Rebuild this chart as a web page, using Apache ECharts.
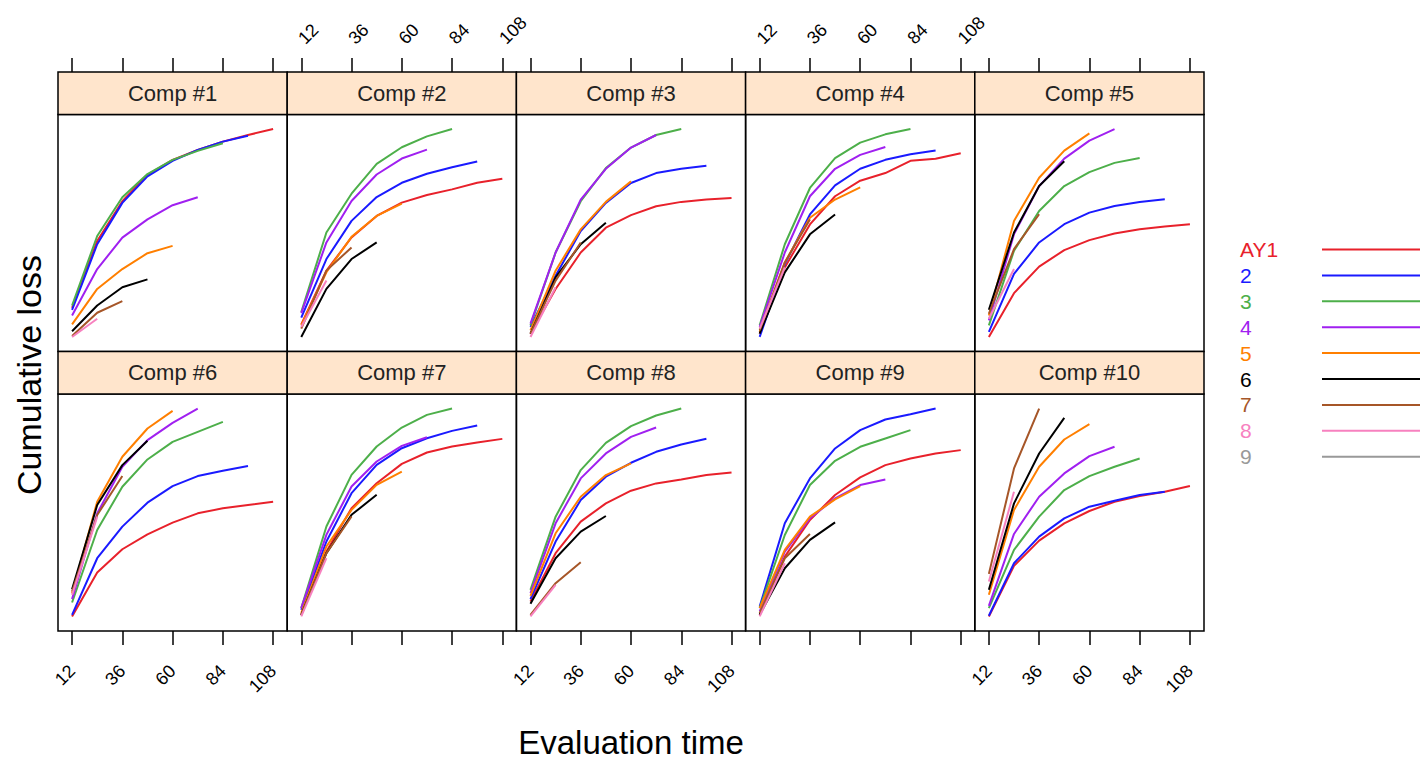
<!DOCTYPE html>
<html>
<head>
<meta charset="utf-8">
<script src="https://cdn.jsdelivr.net/npm/echarts@6/dist/echarts.min.js"></script>
<style>
  html, body { margin: 0; padding: 0; background: #ffffff; }
  #chart { width: 1420px; height: 761px; }
</style>
</head>
<body>
<div id="chart"></div>
<script>
// Development ages (months) and the labelled ticks
const evalTimes = [12, 24, 36, 48, 60, 72, 84, 96, 108];
const tickValues = [12, 36, 60, 84, 108];

// Accident years (legend labels) and their colours
const accidentYears = ['AY1', '2', '3', '4', '5', '6', '7', '8', '9'];
const yearColors = ['#e8212b', '#1a1aff', '#4daf4a', '#a020f0', '#ff7f00', '#000000', '#a65628', '#f781bf', '#999999'];

const panelTitles = ['Comp #1', 'Comp #2', 'Comp #3', 'Comp #4', 'Comp #5',
                     'Comp #6', 'Comp #7', 'Comp #8', 'Comp #9', 'Comp #10'];

// Cumulative loss per company: one row per accident year, one value per age
const comp1 = [
  [131, 333, 453, 533, 578, 608, 633, 653, 671],
  [125, 323, 448, 528, 575, 608, 633, 651],
  [138, 348, 465, 535, 578, 605, 628],
  [108, 248, 343, 398, 441, 465],
  [81, 188, 248, 296, 318],
  [60, 138, 193, 217],
  [46, 116, 151],
  [43, 98],
  [45]
];
const comp2 = [
  [81, 243, 343, 408, 448, 471, 488, 508, 520],
  [101, 278, 393, 465, 508, 535, 555, 572],
  [118, 358, 475, 565, 615, 648, 670],
  [115, 328, 453, 533, 581, 608],
  [78, 238, 345, 408, 445],
  [43, 188, 278, 328],
  [68, 243, 313],
  [73, 213],
  [75]
];
const comp3 = [
  [53, 188, 298, 373, 411, 438, 451, 458, 463],
  [73, 228, 363, 448, 508, 538, 551, 560],
  [78, 298, 453, 553, 615, 653, 671],
  [83, 298, 458, 551, 615, 653],
  [63, 243, 368, 451, 513],
  [53, 223, 323, 388],
  [53, 213, 328],
  [43, 193],
  [50]
];
const comp4 = [
  [53, 253, 383, 468, 515, 538, 575, 581, 598],
  [43, 263, 413, 501, 551, 578, 595, 606],
  [78, 323, 493, 583, 630, 655, 671],
  [73, 298, 468, 551, 593, 617],
  [58, 268, 403, 458, 495],
  [53, 238, 353, 413],
  [63, 268, 398],
  [68, 253],
  [60]
];
const comp5 = [
  [43, 175, 255, 305, 335, 355, 368, 376, 383],
  [58, 233, 328, 383, 418, 438, 450, 458],
  [78, 303, 423, 498, 540, 568, 583],
  [93, 353, 498, 581, 635, 670],
  [108, 393, 523, 605, 657],
  [125, 358, 498, 573],
  [113, 308, 413],
  [98, 248],
  [100]
];
const comp6 = [
  [43, 175, 245, 290, 325, 353, 368, 378, 388],
  [48, 218, 313, 385, 435, 465, 481, 495],
  [85, 303, 433, 515, 568, 598, 628],
  [95, 353, 493, 573, 625, 668],
  [113, 388, 523, 608, 661],
  [125, 378, 498, 571],
  [118, 348, 465],
  [108, 343],
  [110]
];
const comp7 = [
  [48, 238, 368, 443, 501, 535, 553, 565, 576],
  [63, 268, 413, 498, 548, 578, 600, 616],
  [68, 313, 468, 553, 610, 648, 667],
  [68, 288, 433, 508, 555, 581],
  [53, 253, 363, 438, 478],
  [48, 233, 348, 408],
  [48, 233, 343],
  [43, 218],
  [50]
];
const comp8 = [
  [88, 233, 328, 383, 421, 443, 455, 468, 476],
  [95, 268, 393, 463, 505, 538, 560, 577],
  [123, 343, 483, 565, 615, 647, 668],
  [113, 323, 458, 533, 583, 611],
  [105, 293, 403, 468, 503],
  [81, 218, 298, 345],
  [48, 143, 206],
  [43, 138],
  [60]
];
const comp9 = [
  [48, 223, 333, 408, 461, 498, 518, 533, 543],
  [73, 323, 458, 548, 603, 635, 651, 668],
  [68, 288, 438, 511, 553, 578, 603],
  [58, 238, 338, 398, 438, 455],
  [68, 243, 343, 395, 435],
  [48, 188, 273, 326],
  [53, 218, 291],
  [43, 203],
  [50]
];
const comp10 = [
  [43, 195, 271, 323, 360, 388, 405, 418, 435],
  [45, 203, 283, 338, 373, 391, 408, 418],
  [68, 243, 343, 423, 465, 493, 518],
  [75, 291, 403, 473, 525, 553],
  [108, 363, 493, 575, 621],
  [123, 383, 533, 640],
  [171, 488, 668],
  [148, 418],
  [120]
];
const companies = [comp1, comp2, comp3, comp4, comp5, comp6, comp7, comp8, comp9, comp10];

// ---- panel layout (lattice-style 5 x 2 grid with strips) ----
const FONT = '"Liberation Sans", Arial, Helvetica, sans-serif';
const colLeft = [58, 287.2, 516.4, 745.6, 974.8];
const panelW = 229.2;
const stripH = 42.5;
const rowPlotTop = [114.5, 394];
const panelH = 237;
const xMin = 12 - 0.07 * 96, xMax = 108 + 0.07 * 96;

const grids = [], xAxes = [], yAxes = [], series = [], graphics = [];

function tickAxis(gridIndex, position, labelled, margin, rotate) {
  return {
    gridIndex: gridIndex, type: 'value', min: xMin, max: xMax,
    position: position,
    axisLine: { show: false, onZero: false },
    splitLine: { show: false },
    axisTick: { show: true, customValues: tickValues, length: 14, inside: false,
                lineStyle: { color: '#000', width: 1.5 } },
    axisLabel: { show: labelled, customValues: tickValues, rotate: rotate, margin: margin,
                 fontSize: 18, color: '#000', fontFamily: FONT }
  };
}

companies.forEach((comp, p) => {
  const row = Math.floor(p / 5), col = p % 5;
  const left = colLeft[col], top = rowPlotTop[row];
  grids.push({
    left: left, top: top, width: panelW, height: panelH,
    show: true, borderColor: '#000', borderWidth: 1.5,
    backgroundColor: 'transparent', containLabel: false, outerBoundsMode: 'none'
  });

  if (row === 1) {
    // bottom ticks; labels on columns 1, 3 and 5
    xAxes.push(tickAxis(p, 'bottom', col % 2 === 0, 37, 45));
  } else {
    xAxes.push({ gridIndex: p, type: 'value', min: xMin, max: xMax, show: false,
                 axisLine: { onZero: false }, splitLine: { show: false } });
  }

  // free y scale per panel, padded 7% on each side
  const all = comp.flat();
  const lo = Math.min(...all), hi = Math.max(...all), pad = 0.07 * (hi - lo);
  yAxes.push({
    gridIndex: p, type: 'value', min: lo - pad, max: hi + pad, show: false,
    axisLine: { onZero: false }, splitLine: { show: false }
  });

  comp.forEach((vals, a) => {
    series.push({
      type: 'line', name: accidentYears[a], xAxisIndex: p, yAxisIndex: p,
      data: vals.map((v, i) => [evalTimes[i], v]),
      showSymbol: false, symbol: 'none', silent: true, z: 2 + a,
      lineStyle: { color: yearColors[a], width: 2 }
    });
  });

  // strip with the company name
  graphics.push({
    type: 'rect', z: 10,
    shape: { x: left, y: top - stripH, width: panelW, height: stripH },
    style: { fill: '#ffe5cc', stroke: '#000', lineWidth: 1.5 }
  });
  graphics.push({
    type: 'text', z: 11,
    x: left + panelW / 2, y: top - stripH / 2,
    style: { text: panelTitles[p], fill: '#222', font: '22px ' + FONT,
             align: 'center', verticalAlign: 'middle' }
  });
});

// top ticks sit above the strips of the first row; labels on columns 2 and 4
for (let col = 0; col < 5; col++) {
  const g = grids.length;
  grids.push({
    left: colLeft[col], top: rowPlotTop[0] - stripH, width: panelW, height: panelH + stripH,
    show: false, containLabel: false, outerBoundsMode: 'none'
  });
  xAxes.push(tickAxis(g, 'top', col % 2 === 1, 31, -45));
  yAxes.push({ gridIndex: g, type: 'value', min: 0, max: 1, show: false,
               axisLine: { onZero: false }, splitLine: { show: false } });
}

// key: coloured labels with line samples
accidentYears.forEach((name, a) => {
  const y = 249.5 + a * 25.9;
  graphics.push({
    type: 'text', z: 11, x: 1240, y: y,
    style: { text: name, fill: yearColors[a], font: '21px ' + FONT,
             align: 'left', verticalAlign: 'middle' }
  });
  graphics.push({
    type: 'line', z: 11,
    shape: { x1: 1322, y1: y, x2: 1420, y2: y },
    style: { stroke: yearColors[a], lineWidth: 2 }
  });
});

// axis titles
graphics.push({
  type: 'text', z: 11, x: 29, y: 375, rotation: Math.PI / 2,
  style: { text: 'Cumulative loss', fill: '#000', font: '34px ' + FONT,
           align: 'center', verticalAlign: 'middle' }
});
graphics.push({
  type: 'text', z: 11, x: 631, y: 742,
  style: { text: 'Evaluation time', fill: '#000', font: '33px ' + FONT,
           align: 'center', verticalAlign: 'middle' }
});

const chart = echarts.init(document.getElementById('chart'), null, { renderer: 'svg' });
chart.setOption({
  animation: false,
  backgroundColor: '#ffffff',
  grid: grids,
  xAxis: xAxes,
  yAxis: yAxes,
  series: series,
  graphic: graphics
});
</script>
</body>
</html>
